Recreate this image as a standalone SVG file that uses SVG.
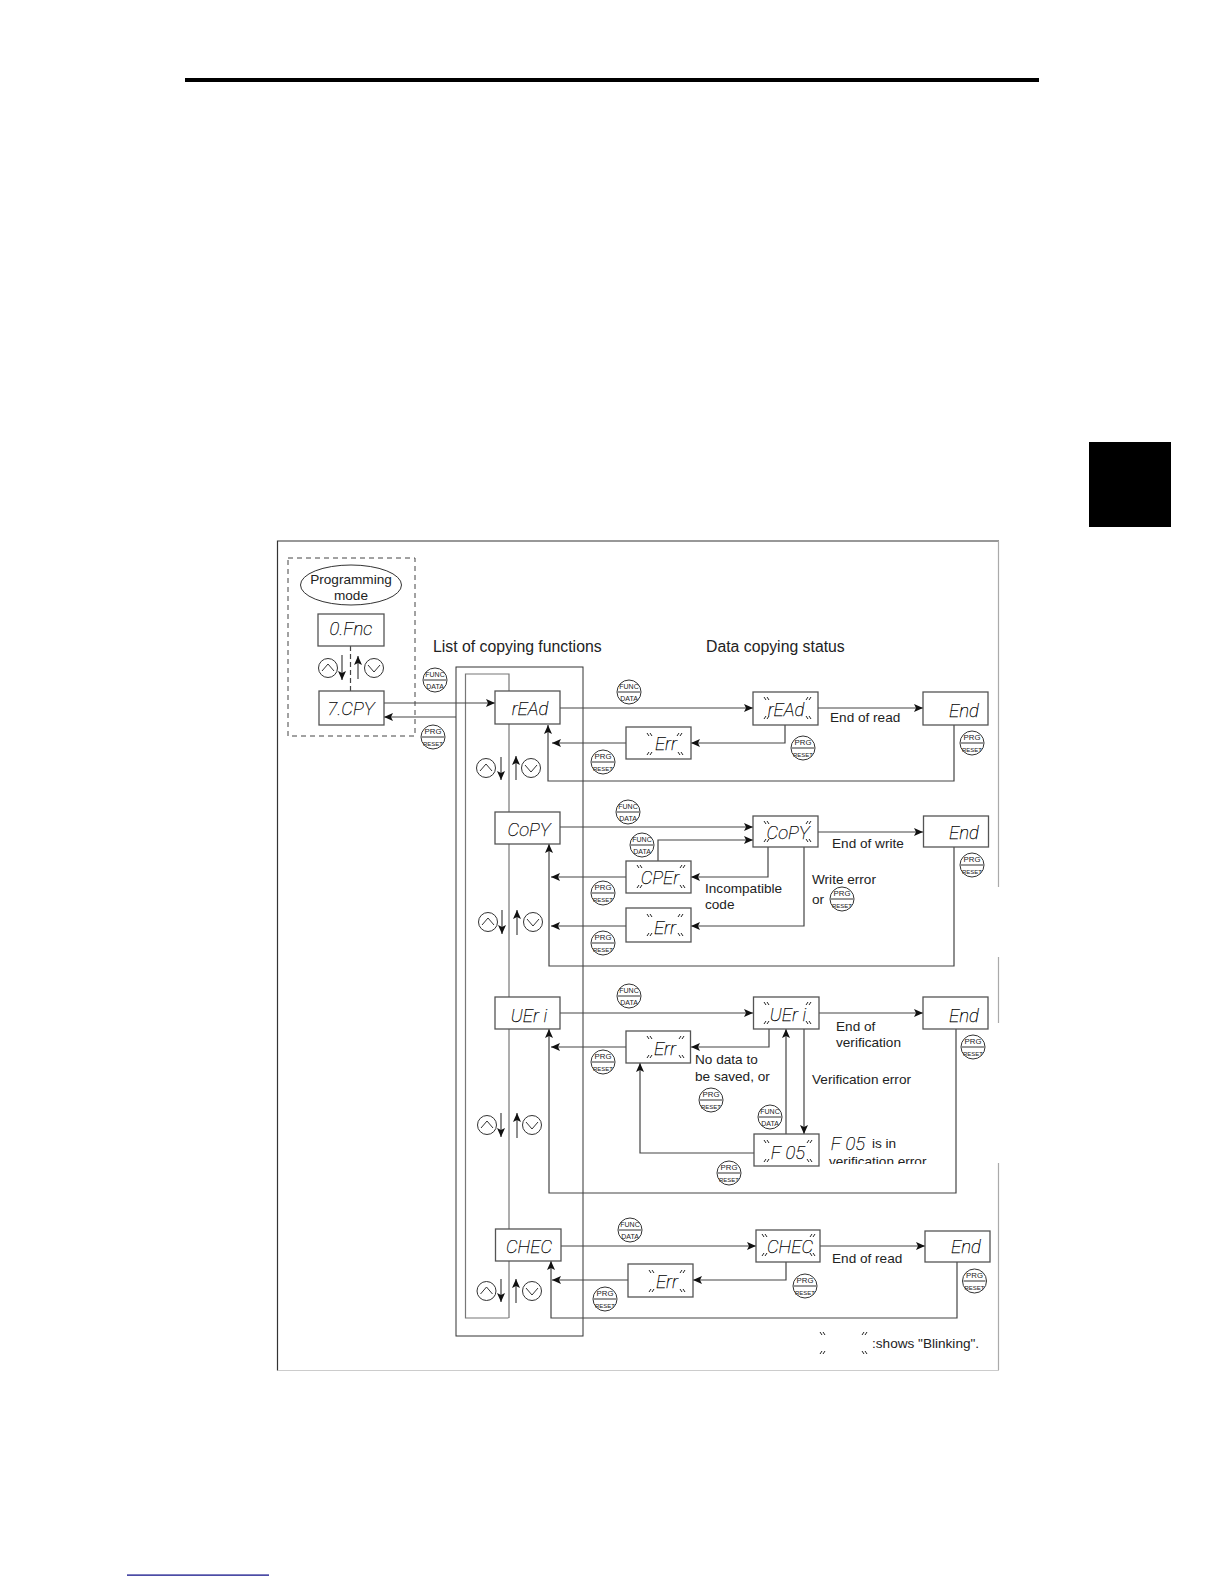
<svg xmlns="http://www.w3.org/2000/svg" width="1224" height="1584" viewBox="0 0 1224 1584">
<style>
text{font-family:"Liberation Sans",Arial,sans-serif;fill:#222}
.lbl{font-size:13.6px}
.hd{font-size:15.8px}
.seg{font-family:Roboto,"Liberation Sans",sans-serif;font-style:italic;font-weight:100;font-size:18.5px;text-anchor:middle;fill:#000;stroke:#000;stroke-width:.25}
.box{fill:#fff;stroke:#555;stroke-width:1.3}
.c{fill:none;stroke:#444;stroke-width:1.2}
.ca{fill:none;stroke:#444;stroke-width:1.2;marker-end:url(#ah)}
.g{fill:none;stroke:#777;stroke-width:1.2}
.k{fill:none;stroke:#333;stroke-width:1}
.btn circle{fill:#fff;stroke:#333;stroke-width:1}
.btn line{stroke:#333;stroke-width:1}
.btn text{font-size:7px;text-anchor:middle}
.btn .p{font-size:7.8px}
.btn .s{font-size:6px}
.kc{fill:#fff;stroke:#333;stroke-width:1}
.tick{fill:none;stroke:#222;stroke-width:1}
</style>
<defs>
<marker id="ah" markerUnits="userSpaceOnUse" markerWidth="10" markerHeight="8" refX="9" refY="4" orient="auto"><path d="M0,0 L9,4 L0,8 L2,4 Z" fill="#111"/></marker>
<symbol id="t1" overflow="visible"><path class="tick" d="M-2,-2 L0,1 M1,-2 L3,1"/></symbol>
<symbol id="t2" overflow="visible"><path class="tick" d="M0,-2 L-2,1 M3,-2 L1,1"/></symbol>
<clipPath id="vclip"><rect x="820" y="1150" width="110" height="14"/></clipPath>
<g id="kup"><circle class="kc" r="9.5"/><path class="k" d="M-6,3 L0,-4 L6,3"/></g>
<g id="kdn"><circle class="kc" r="9.5"/><path class="k" d="M-6,-3 L0,4 L6,-3"/></g>
</defs>
<rect width="1224" height="1584" fill="#fff"/>
<g id="page">
<rect x="185" y="78" width="854" height="4" fill="#000"/>
<rect x="1089" y="442" width="82" height="85" fill="#000"/>
<rect x="127" y="1574.5" width="142" height="1.2" fill="#000080"/>
<path d="M277.5,1370.5 V541 H999" fill="none" stroke="#333" stroke-width="1.2"/>
<path d="M998.5,541 V887 M998.5,957 V1023 M998.5,1163 V1370" fill="none" stroke="#aaa" stroke-width="1.2"/>
<path d="M278,1370.5 H999" fill="none" stroke="#ccc" stroke-width="1.2"/>
<rect x="288" y="558" width="127" height="178" fill="none" stroke="#444" stroke-width="1" stroke-dasharray="5 4"/>
</g>
<g id="connectors">
<rect x="456" y="667" width="127" height="669" class="k"/>
<path class="g" d="M508.5,1318 H465.5 V674 H509 V692 M509,724 V812 M509,844 V997 M509,1029 V1229 M509,1261 V1318"/>
<path class="c" stroke-dasharray="5 3" d="M350.5,646 V691"/>
<path class="ca" d="M342,655 V680"/><path class="ca" d="M358,679 V656"/>
<path class="ca" d="M384,703 H495"/><path class="ca" d="M456,717 H384"/>
<path class="ca" d="M501,757 V780"/><path class="ca" d="M516,780 V756"/>
<path class="ca" d="M560,708 H753"/><path class="ca" d="M818,708 H923"/>
<path class="ca" d="M785,725 V743 H691"/><path class="ca" d="M626,743 H552"/>
<path class="ca" d="M954,725 V781 H548 V725"/>
<path class="ca" d="M560,827 H753"/><path class="ca" d="M818,832 H923"/>
<path class="ca" d="M658,861 V840 H753"/>
<path class="ca" d="M768,847 V877 H691"/><path class="ca" d="M626,877 H551"/>
<path class="ca" d="M804,847 V926 H691"/><path class="ca" d="M626,926 H551"/>
<path class="ca" d="M954,847 V966 H549 V844"/>
<path class="ca" d="M502,910 V934"/><path class="ca" d="M517,935 V910"/>
<path class="ca" d="M560,1013 H753"/><path class="ca" d="M819,1013 H923"/>
<path class="ca" d="M769,1029 V1047 H691"/><path class="ca" d="M626,1047 H551"/>
<path class="ca" d="M786,1134 V1029"/><path class="ca" d="M804,1029 V1134"/>
<path class="ca" d="M754,1153 H640 V1063"/>
<path class="ca" d="M956,1029 V1193 H549 V1029"/>
<path class="ca" d="M501,1113 V1137"/><path class="ca" d="M517,1138 V1113"/>
<path class="ca" d="M561,1246 H756"/><path class="ca" d="M820,1246 H925"/>
<path class="ca" d="M786,1262 V1280 H693"/><path class="ca" d="M628,1280 H552"/>
<path class="ca" d="M957,1262 V1318 H551 V1261"/>
<path class="ca" d="M501,1279 V1302"/><path class="ca" d="M516,1303 V1279"/>
</g>
<g id="labels">
<text class="hd" x="433" y="652">List of copying functions</text>
<text class="hd" x="706" y="652">Data copying status</text>
<text class="lbl" x="830" y="722">End of read</text>
<text class="lbl" x="832" y="848">End of write</text>
<text class="lbl" x="705" y="893">Incompatible</text>
<text class="lbl" x="705" y="909">code</text>
<text class="lbl" x="812" y="884">Write error</text>
<text class="lbl" x="812" y="904">or</text>
<text class="lbl" x="836" y="1031">End of</text>
<text class="lbl" x="836" y="1047">verification</text>
<text class="lbl" x="695" y="1064">No data to</text>
<text class="lbl" x="695" y="1081">be saved, or</text>
<text class="lbl" x="812" y="1084">Verification error</text>
<text class="seg" x="848" y="1150">F 05</text>
<text class="lbl" x="872" y="1148">is in</text>
<text class="lbl" x="829" y="1166" clip-path="url(#vclip)">verification error</text>
<text class="lbl" x="832" y="1263">End of read</text>
<text class="lbl" x="872" y="1348">:shows "Blinking".</text>
<use href="#t1" x="822" y="1334"/><use href="#t2" x="864" y="1334"/><use href="#t2" x="822" y="1353"/><use href="#t1" x="864" y="1353"/>
</g>
<g id="node-programming-mode"><ellipse cx="351" cy="585" rx="50.500" ry="20" fill="#fff" stroke="#333"/><text x="351" y="584" font-size="13.6" text-anchor="middle">Programming</text><text x="351" y="600" font-size="13.6" text-anchor="middle">mode</text></g>
<g id="node-0fnc"><rect class="box" x="318" y="614" width="66" height="32"/><text class="seg" x="351" y="635">0.Fnc</text></g>
<g id="node-7cpy"><rect class="box" x="319" y="691" width="65" height="34"/><text class="seg" x="351" y="715">7.CPY</text></g>
<g id="node-read"><rect class="box" x="495" y="691" width="65" height="33"/><text class="seg" x="530" y="715">rEAd</text></g>
<g id="node-copy"><rect class="box" x="495" y="812" width="65" height="32"/><text class="seg" x="529" y="836">CoPY</text></g>
<g id="node-veri"><rect class="box" x="495" y="997" width="65" height="32"/><text class="seg" x="529" y="1022">UEr i</text></g>
<g id="node-chec"><rect class="box" x="495.500" y="1229" width="65.500" height="32"/><text class="seg" x="529" y="1253">CHEC</text></g>
<g id="node-read-status"><rect class="box" x="753" y="692" width="65" height="33"/><text class="seg" x="786" y="716">rEAd</text>
<use href="#t1" x="766" y="699"/><use href="#t2" x="808" y="699"/><use href="#t2" x="766" y="718"/><use href="#t1" x="808" y="718"/></g>
<g id="node-read-end"><rect class="box" x="923" y="692" width="65" height="33"/><text class="seg" x="964" y="717">End</text></g>
<g id="node-read-err"><rect class="box" x="626" y="727" width="65" height="32"/><text class="seg" x="666" y="750">Err</text>
<use href="#t1" x="649" y="735"/><use href="#t2" x="679" y="735"/><use href="#t2" x="649" y="754"/><use href="#t1" x="680" y="754"/></g>
<g id="node-copy-status"><rect class="box" x="753" y="816" width="65" height="31"/><text class="seg" x="788" y="839">CoPY</text>
<use href="#t1" x="766" y="823"/><use href="#t2" x="808" y="823"/><use href="#t2" x="766" y="841"/><use href="#t1" x="808" y="841"/></g>
<g id="node-copy-end"><rect class="box" x="923.500" y="816" width="65" height="31"/><text class="seg" x="964" y="839">End</text></g>
<g id="node-cper"><rect class="box" x="626" y="861" width="65" height="32"/><text class="seg" x="660" y="884">CPEr</text>
<use href="#t1" x="639" y="867"/><use href="#t2" x="682" y="867"/><use href="#t2" x="639" y="887"/><use href="#t1" x="682" y="887"/></g>
<g id="node-copy-err"><rect class="box" x="626" y="908" width="65" height="34"/><text class="seg" x="665" y="934">Err</text>
<use href="#t1" x="649" y="916"/><use href="#t2" x="680" y="916"/><use href="#t2" x="649" y="935"/><use href="#t1" x="680" y="935"/></g>
<g id="node-veri-status"><rect class="box" x="753.500" y="997" width="65.500" height="32"/><text class="seg" x="788" y="1021">UEr i</text>
<use href="#t1" x="766" y="1004"/><use href="#t2" x="808" y="1004"/><use href="#t2" x="766" y="1023"/><use href="#t1" x="808" y="1023"/></g>
<g id="node-veri-end"><rect class="box" x="923" y="997" width="65" height="32"/><text class="seg" x="964" y="1022">End</text></g>
<g id="node-veri-err"><rect class="box" x="626" y="1031" width="64.500" height="32"/><text class="seg" x="665" y="1055">Err</text>
<use href="#t1" x="649" y="1038"/><use href="#t2" x="681" y="1038"/><use href="#t2" x="649" y="1057"/><use href="#t1" x="681" y="1057"/></g>
<g id="node-f05"><rect class="box" x="754" y="1134" width="65" height="32"/><text class="seg" x="788" y="1159">F 05</text>
<use href="#t1" x="766" y="1142"/><use href="#t2" x="809" y="1142"/><use href="#t2" x="766" y="1161"/><use href="#t1" x="809" y="1161"/></g>
<g id="node-chec-status"><rect class="box" x="756" y="1230" width="64" height="32"/><text class="seg" x="790" y="1253">CHEC</text>
<use href="#t1" x="764" y="1236"/><use href="#t2" x="812" y="1236"/><use href="#t2" x="764" y="1255"/><use href="#t1" x="812" y="1255"/></g>
<g id="node-chec-end"><rect class="box" x="925" y="1231" width="65" height="31"/><text class="seg" x="966" y="1253">End</text></g>
<g id="node-chec-err"><rect class="box" x="628" y="1264" width="65" height="33"/><text class="seg" x="667" y="1288">Err</text>
<use href="#t1" x="651" y="1272"/><use href="#t2" x="682" y="1272"/><use href="#t2" x="651" y="1291"/><use href="#t1" x="682" y="1291"/></g>
<g id="keys">
<use href="#kup" x="328" y="668"/><use href="#kdn" x="374" y="668"/>
<use href="#kup" x="486" y="768"/><use href="#kdn" x="531" y="768"/>
<use href="#kup" x="488" y="922"/><use href="#kdn" x="533" y="922"/>
<use href="#kup" x="487" y="1125"/><use href="#kdn" x="532" y="1125"/>
<use href="#kup" x="486.500" y="1291"/><use href="#kdn" x="532" y="1291"/>
</g>
<g id="func-buttons">
<g class="btn" transform="translate(435,680)"><circle r="12"/><line x1="-11" x2="11"/><text y="-3">FUNC</text><text y="8.500">DATA</text></g>
<g class="btn" transform="translate(629,692)"><circle r="12"/><line x1="-11" x2="11"/><text y="-3">FUNC</text><text y="8.500">DATA</text></g>
<g class="btn" transform="translate(628,812)"><circle r="12"/><line x1="-11" x2="11"/><text y="-3">FUNC</text><text y="8.500">DATA</text></g>
<g class="btn" transform="translate(642,845)"><circle r="12"/><line x1="-11" x2="11"/><text y="-3">FUNC</text><text y="8.500">DATA</text></g>
<g class="btn" transform="translate(629,996)"><circle r="12"/><line x1="-11" x2="11"/><text y="-3">FUNC</text><text y="8.500">DATA</text></g>
<g class="btn" transform="translate(770,1117)"><circle r="12"/><line x1="-11" x2="11"/><text y="-3">FUNC</text><text y="8.500">DATA</text></g>
<g class="btn" transform="translate(630,1230)"><circle r="12"/><line x1="-11" x2="11"/><text y="-3">FUNC</text><text y="8.500">DATA</text></g>
</g>
<g id="prg-buttons">
<g class="btn" transform="translate(433,737)"><circle r="12"/><line x1="-11" x2="11"/><text class="p" y="-3">PRG</text><text class="s" y="8.500">RESET</text></g>
<g class="btn" transform="translate(603,762)"><circle r="12"/><line x1="-11" x2="11"/><text class="p" y="-3">PRG</text><text class="s" y="8.500">RESET</text></g>
<g class="btn" transform="translate(803,748)"><circle r="12"/><line x1="-11" x2="11"/><text class="p" y="-3">PRG</text><text class="s" y="8.500">RESET</text></g>
<g class="btn" transform="translate(972,743)"><circle r="12"/><line x1="-11" x2="11"/><text class="p" y="-3">PRG</text><text class="s" y="8.500">RESET</text></g>
<g class="btn" transform="translate(603,893)"><circle r="12"/><line x1="-11" x2="11"/><text class="p" y="-3">PRG</text><text class="s" y="8.500">RESET</text></g>
<g class="btn" transform="translate(603,943)"><circle r="12"/><line x1="-11" x2="11"/><text class="p" y="-3">PRG</text><text class="s" y="8.500">RESET</text></g>
<g class="btn" transform="translate(972,865)"><circle r="12"/><line x1="-11" x2="11"/><text class="p" y="-3">PRG</text><text class="s" y="8.500">RESET</text></g>
<g class="btn" transform="translate(842,899)"><circle r="12"/><line x1="-11" x2="11"/><text class="p" y="-3">PRG</text><text class="s" y="8.500">RESET</text></g>
<g class="btn" transform="translate(603,1062)"><circle r="12"/><line x1="-11" x2="11"/><text class="p" y="-3">PRG</text><text class="s" y="8.500">RESET</text></g>
<g class="btn" transform="translate(711,1100)"><circle r="12"/><line x1="-11" x2="11"/><text class="p" y="-3">PRG</text><text class="s" y="8.500">RESET</text></g>
<g class="btn" transform="translate(973,1047)"><circle r="12"/><line x1="-11" x2="11"/><text class="p" y="-3">PRG</text><text class="s" y="8.500">RESET</text></g>
<g class="btn" transform="translate(729,1173)"><circle r="12"/><line x1="-11" x2="11"/><text class="p" y="-3">PRG</text><text class="s" y="8.500">RESET</text></g>
<g class="btn" transform="translate(605,1299)"><circle r="12"/><line x1="-11" x2="11"/><text class="p" y="-3">PRG</text><text class="s" y="8.500">RESET</text></g>
<g class="btn" transform="translate(805,1286)"><circle r="12"/><line x1="-11" x2="11"/><text class="p" y="-3">PRG</text><text class="s" y="8.500">RESET</text></g>
<g class="btn" transform="translate(974.500,1281)"><circle r="12"/><line x1="-11" x2="11"/><text class="p" y="-3">PRG</text><text class="s" y="8.500">RESET</text></g>
</g>
</svg>
